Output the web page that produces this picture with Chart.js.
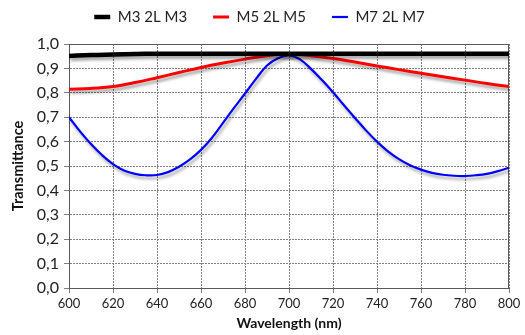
<!DOCTYPE html>
<html>
<head>
<meta charset="utf-8">
<script src="https://cdn.jsdelivr.net/npm/chart.js@4.4.1/dist/chart.umd.min.js"></script>
<style>
html,body{margin:0;padding:0;background:#fff;}
#wrap{width:525px;height:335px;}
</style>
</head>
<body>
<div id="wrap"><canvas id="c" width="525" height="335"></canvas></div>
<script>
// Wavelength (nm), 10 nm steps for M3 and M5
const wavelengths = [600,610,620,630,640,650,660,670,680,690,700,710,720,730,740,750,760,770,780,790,800];
// Wavelength (nm), 5 nm steps for M7
const wavelengthsM7 = [600,605,610,615,620,625,630,635,640,645,650,655,660,665,670,675,680,685,690,695,700,
                       705,710,715,720,725,730,735,740,745,750,755,760,765,770,775,780,785,790,795,800];
// Series
const m3 = [0.951,0.955,0.957,0.959,0.960,0.960,0.960,0.960,0.960,0.960,0.960,0.960,0.960,0.960,0.960,0.960,0.960,0.960,0.960,0.960,0.960];
const m5 = [0.815,0.818,0.826,0.842,0.862,0.883,0.904,0.922,0.938,0.952,0.958,0.952,0.941,0.926,0.910,0.895,0.880,0.866,0.852,0.838,0.826];
const m7 = [0.700,0.642,0.590,0.545,0.508,0.482,0.468,0.462,0.463,0.475,0.497,0.527,0.566,0.616,0.677,0.738,0.797,0.857,0.912,0.942,0.953,
            0.937,0.898,0.852,0.802,0.749,0.697,0.646,0.600,0.560,0.528,0.503,0.485,0.472,0.464,0.460,0.459,0.462,0.468,0.479,0.493];
const seriesNames = ['M3 2L M3','M5 2L M5','M7 2L M7'];
const xTitle = 'Wavelength (nm)';
const yTitle = 'Transmittance';

const toPts = (xs, arr) => xs.map((w,i)=>({x:w,y:arr[i]}));
const FONT = 'Lato, "Open Sans", sans-serif';

const shadowPlugin = {
  id:'shadow',
  beforeDatasetDraw(chart){
    const ctx = chart.ctx;
    ctx.save();
    ctx.shadowColor = 'rgba(0,0,0,0.35)';
    ctx.shadowBlur = 3;
    ctx.shadowOffsetX = 1.5;
    ctx.shadowOffsetY = 3;
  },
  afterDatasetDraw(chart){ chart.ctx.restore(); }
};
const framePlugin = {
  id:'frame',
  beforeDatasetsDraw(chart){
    const {ctx, chartArea:a} = chart;
    ctx.save();
    ctx.strokeStyle = '#5a5a5a';
    ctx.lineWidth = 1;
    ctx.strokeRect(a.left+0.5, a.top+0.5, a.right-a.left-1, a.bottom-a.top);
    ctx.restore();
  }
};
const legendFix = {
  id:'legendFix',
  beforeLayout(chart){
    const lg = chart.legend;
    if (lg && !lg._patched){
      const f = lg.fit;
      lg.fit = function(){ f.call(this); this.height += 9.5; };
      lg._patched = true;
    }
  }
};

new Chart(document.getElementById('c'), {
  type:'line',
  data:{
    datasets:[
      {label:seriesNames[0], data:toPts(wavelengths, m3), borderColor:'#000000', backgroundColor:'#000000', borderWidth:4.5},
      {label:seriesNames[1], data:toPts(wavelengths, m5), borderColor:'#ff0000', backgroundColor:'#ff0000', borderWidth:3},
      {label:seriesNames[2], data:toPts(wavelengthsM7, m7), borderColor:'#0000ff', backgroundColor:'#0000ff', borderWidth:2.2}
    ]
  },
  options:{
    responsive:false,
    animation:false,
    devicePixelRatio:1,
    layout:{padding:{left:10,right:16,top:-16.5,bottom:3}},
    elements:{point:{radius:0}, line:{tension:0.4, fill:false}},
    plugins:{
      legend:{
        position:'top',
        labels:{usePointStyle:true, pointStyle:'line', pointStyleWidth:16, color:'#222', font:{family:FONT,size:15}, padding:26, boxHeight:10}
      },
      tooltip:{enabled:false}
    },
    scales:{
      x:{
        type:'linear', min:600, max:800,
        ticks:{stepSize:20, color:'#222', font:{family:FONT,size:13}, padding:3, maxRotation:0},
        grid:{color:'#808080', tickLength:5, tickColor:'#808080'},
        border:{display:true, color:'#5a5a5a', dash:[2,1]},
        title:{display:true, text:xTitle, color:'#111', font:{family:FONT,size:14,weight:'bold'}, padding:{top:3,bottom:0}},
        afterFit(s){ s.height = 44; }
      },
      y:{
        min:0, max:1,
        ticks:{stepSize:0.1, color:'#222', font:{family:FONT,size:16}, padding:5,
          callback:v=>Number(v).toFixed(1).replace('.',',')},
        grid:{color:'#808080', tickLength:5, tickColor:'#808080'},
        border:{display:true, color:'#5a5a5a', dash:[2,1]},
        title:{display:true, text:yTitle, color:'#111', font:{family:FONT,size:14.5,weight:'bold'}, padding:{top:0,bottom:2}},
        afterFit(s){ s.width = 59; }
      }
    }
  },
  plugins:[shadowPlugin, framePlugin, legendFix]
});
</script>
</body>
</html>
